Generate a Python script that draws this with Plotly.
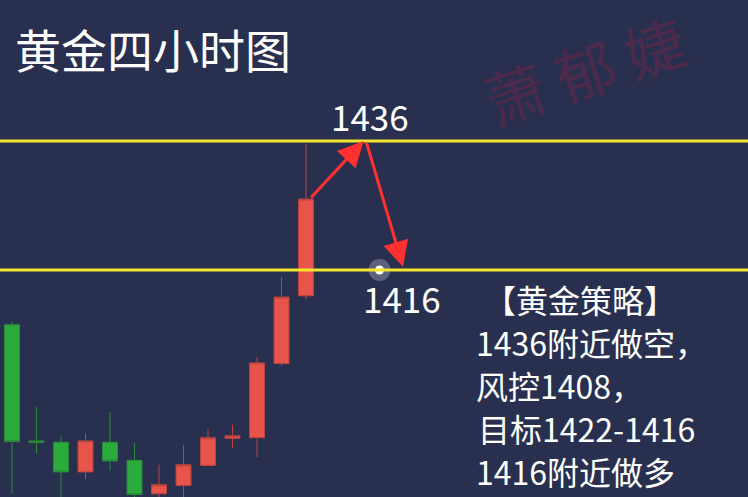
import plotly.graph_objects as go

# ---- data ----
idx = list(range(13))
open_ = [1407.5, 1389.5, 1389.3, 1384.7, 1389.3, 1386.5, 1381.3, 1382.6, 1385.7, 1389.9, 1390.0, 1401.5, 1412.0]
close = [1389.4, 1389.3, 1384.7, 1389.5, 1386.4, 1381.2, 1382.7, 1385.8, 1390.0, 1390.3, 1401.6, 1411.8, 1427.0]
high = [1408.0, 1394.8, 1390.3, 1390.7, 1394.0, 1389.2, 1385.8, 1388.9, 1391.4, 1392.0, 1402.5, 1414.9, 1435.5]
low = [1381.3, 1387.6, 1379.0, 1383.6, 1384.9, 1379.0, 1379.5, 1380.0, 1385.6, 1388.4, 1387.0, 1401.1, 1411.5]

resistance = 1436
support = 1416
turn_x = 14.35          # where the up arrow meets 1436
target_x = 15.96        # where the down arrow ends
dot_x = 15

title = "黄金四小时图"
watermark = "萧 郁 婕"
strategy_lines = ["【黄金策略】", "1436附近做空，", "风控1408，", "目标1422-1416", "1416附近做多"]

BG = "#29304f"
W, H = 748, 497

fig = go.Figure()
fig.add_trace(go.Candlestick(
    x=idx, open=open_, high=high, low=low, close=close,
    increasing=dict(fillcolor="#e8534a", line=dict(color="#b9443f", width=1)),
    decreasing=dict(fillcolor="#2aab3b", line=dict(color="#2b8a3a", width=1)),
    whiskerwidth=0, showlegend=False, hoverinfo="skip",
))

# horizontal levels
for lvl in (resistance, support):
    fig.add_shape(type="line", xref="paper", x0=0, x1=1, yref="y", y0=lvl, y1=lvl,
                  line=dict(color="#f3e52f", width=3), layer="above")

# glowing dot on the support line
fig.add_trace(go.Scatter(x=[dot_x], y=[support], mode="markers",
                         marker=dict(size=22, color="rgba(230,230,240,0.28)", line=dict(width=0)),
                         showlegend=False, hoverinfo="skip"))
fig.add_trace(go.Scatter(x=[dot_x], y=[support], mode="markers",
                         marker=dict(size=9, color="white", line=dict(width=0)),
                         showlegend=False, hoverinfo="skip"))

ann = []
# arrows
ARROW = "#ff3030"
ann.append(dict(x=turn_x, y=resistance, xref="x", yref="y", ax=12.15, ay=close[-1], axref="x", ayref="y",
                showarrow=True, arrowhead=2, arrowsize=1.7, arrowwidth=3, arrowcolor=ARROW, text=""))
ann.append(dict(x=target_x, y=support + 0.5, xref="x", yref="y", ax=turn_x + 0.1, ay=resistance, axref="x", ayref="y",
                showarrow=True, arrowhead=2, arrowsize=1.7, arrowwidth=3, arrowcolor=ARROW, text=""))


def px(x):
    return x / W


def py(y):
    return 1 - y / H


CJK = "Noto Sans CJK SC"
ann.append(dict(x=px(13), y=py(48), xref="paper", yref="paper", xanchor="left", yanchor="middle",
                text=title, showarrow=False, font=dict(family=CJK, size=46, color="white")))
ann.append(dict(x=px(584), y=py(68), xref="paper", yref="paper", xanchor="center", yanchor="middle",
                text=watermark, showarrow=False, textangle=-18,
                font=dict(family=CJK, size=60, color="#4c2b4a")))
ann.append(dict(x=px(370), y=py(116), xref="paper", yref="paper", xanchor="center", yanchor="middle",
                text=str(resistance), showarrow=False, font=dict(family=CJK, size=35, color="white")))
ann.append(dict(x=px(402), y=py(297), xref="paper", yref="paper", xanchor="center", yanchor="middle",
                text=str(support), showarrow=False, font=dict(family=CJK, size=35, color="white")))

line_pos = [(482, 299), (474, 342), (474, 385), (476, 428), (474, 471)]
for t, (lx, ly) in zip(strategy_lines, line_pos):
    ann.append(dict(x=px(lx), y=py(ly), xref="paper", yref="paper", xanchor="left", yanchor="middle",
                    text=t, showarrow=False, font=dict(family=CJK, size=32, color="white")))

fig.update_layout(
    width=W, height=H, margin=dict(l=0, r=0, t=0, b=0),
    paper_bgcolor=BG, plot_bgcolor=BG,
    boxgap=0.39, boxgroupgap=0,
    annotations=ann, showlegend=False,
    xaxis=dict(range=[-0.49, 30.04], visible=False, rangeslider=dict(visible=False), fixedrange=True),
    yaxis=dict(range=[1380.81, 1457.86], visible=False, fixedrange=True),
)

fig.write_html("out.html", config={"displayModeBar": False},
               post_script="document.body.style.margin='0';document.body.style.background='" + BG + "';")
